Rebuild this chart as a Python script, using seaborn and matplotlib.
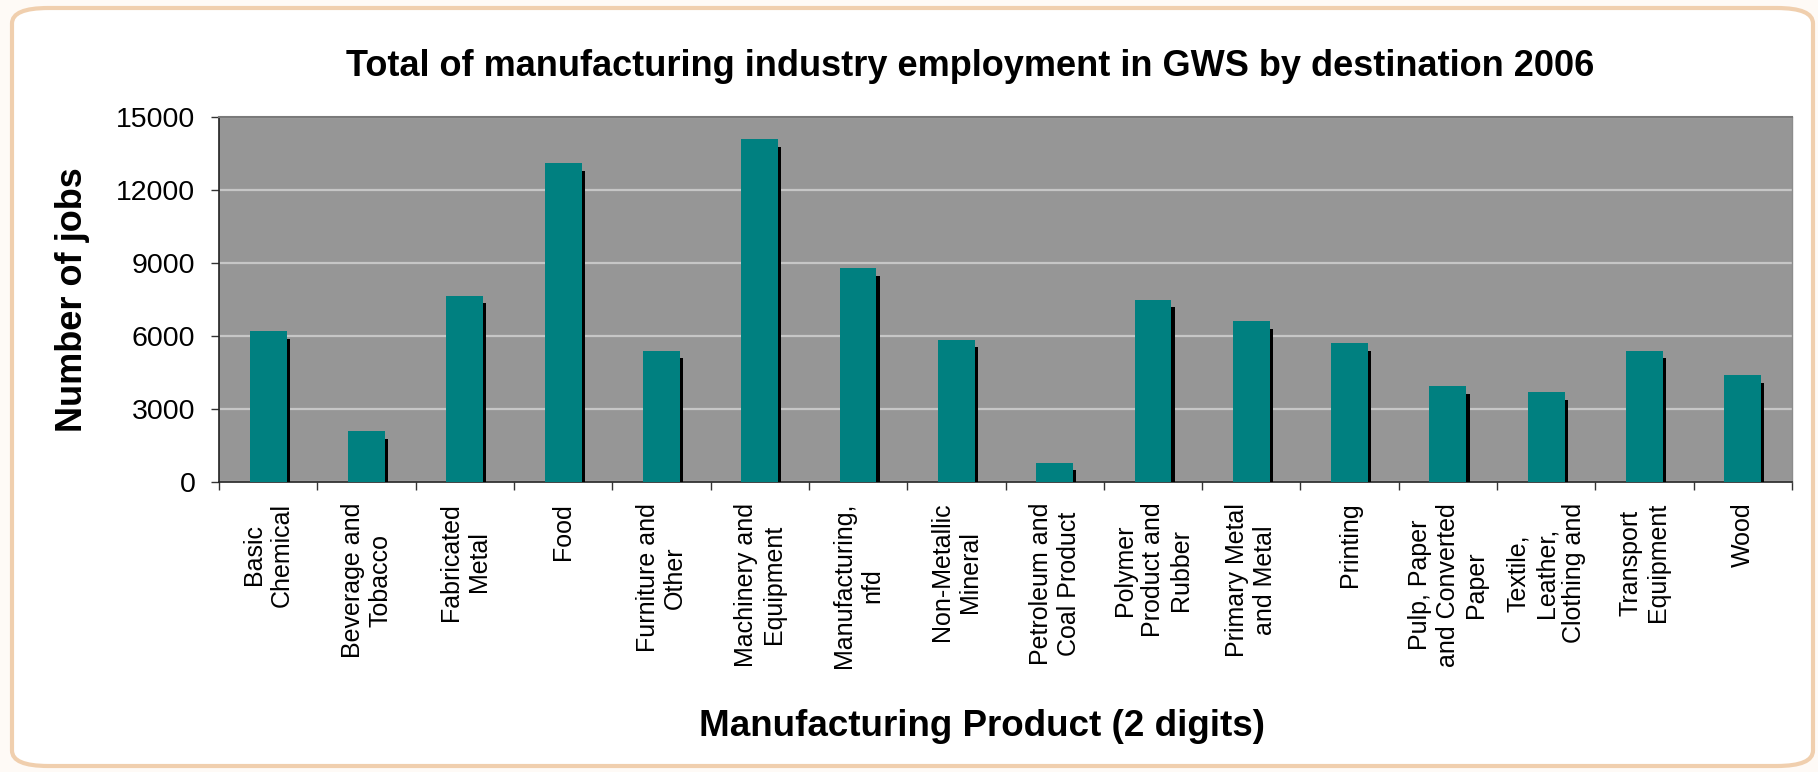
import numpy as np
import pandas as pd
import matplotlib
matplotlib.use("Agg")
import matplotlib.pyplot as plt
import matplotlib.patheffects as pe
from matplotlib.patches import FancyBboxPatch
import seaborn as sns

# Manufacturing employment (number of jobs) by 2-digit product group
categories = [
    "Basic\nChemical",
    "Beverage and\nTobacco",
    "Fabricated\nMetal",
    "Food",
    "Furniture and\nOther",
    "Machinery and\nEquipment",
    "Manufacturing,\nnfd",
    "Non-Metallic\nMineral",
    "Petroleum and\nCoal Product",
    "Polymer\nProduct and\nRubber",
    "Primary Metal\nand Metal",
    "Printing",
    "Pulp, Paper\nand Converted\nPaper",
    "Textile,\nLeather,\nClothing and",
    "Transport\nEquipment",
    "Wood",
]
jobs = [6200, 2100, 7650, 13100, 5400, 14100, 8800, 5850,
        800, 7500, 6600, 5700, 3950, 3680, 5400, 4400]
y_ticks = [0, 3000, 6000, 9000, 12000, 15000]

title = "Total of manufacturing industry employment in GWS by destination 2006"
x_label = "Manufacturing Product (2 digits)"
y_label = "Number of jobs"

sns.set_style("white")
plt.rcParams["font.family"] = ["Liberation Sans", "DejaVu Sans"]
plt.rcParams["text.color"] = "black"
plt.rcParams["axes.labelcolor"] = "black"
plt.rcParams["xtick.color"] = "black"
plt.rcParams["ytick.color"] = "black"

W, H = 1818, 772
fig = plt.figure(figsize=(W / 100, H / 100), dpi=100)
fig.patch.set_facecolor("#fefaf6")

# rounded outer frame, kept behind the axes
frame = FancyBboxPatch((12 / W, 1 - 766 / H), (1813 - 12) / W, (766 - 8) / H,
                       boxstyle="round,pad=0,rounding_size=0.02",
                       transform=fig.transFigure, facecolor="white",
                       edgecolor="#f0cfae", linewidth=3, zorder=-5)
fig.patches.append(frame)

left, right, top, bottom = 219, 1792, 117, 482
ax = fig.add_axes([left / W, 1 - bottom / H, (right - left) / W, (bottom - top) / H],
                  zorder=2)
ax.set_facecolor("#969696")

df = pd.DataFrame({"category": categories, "jobs": jobs})
sns.barplot(data=df, x="category", y="jobs", color="#008080", saturation=1,
            width=0.375, edgecolor="none", linewidth=0, ax=ax, zorder=3)

for bar in ax.patches:
    bar.set_path_effects([
        pe.SimplePatchShadow(offset=(2.3, -5.5), shadow_rgbFace="black", alpha=1.0),
        pe.Normal(),
    ])

ax.set_xlim(-0.5, len(categories) - 0.5)
ax.set_ylim(0, 15000)
ax.set_yticks(y_ticks)
ax.set_yticklabels([str(v) for v in y_ticks], fontsize=20.5)
ax.yaxis.grid(True, color="#c6c6c6", linewidth=1.6, zorder=1)
ax.set_axisbelow(True)

# category boundaries carry the tick marks, centres carry the labels
ax.set_xticks(np.arange(-0.5, len(categories), 1.0))
ax.set_xticklabels([])
ax.set_xticks(np.arange(len(categories)), minor=True)
ax.set_xticklabels(categories, minor=True, rotation=90, fontsize=18,
                   ha="center", va="top", multialignment="center",
                   linespacing=1.2)
ax.tick_params(axis="x", which="major", direction="out", length=6,
               width=1, color="#333333", bottom=True)
ax.tick_params(axis="x", which="minor", length=0, pad=15, bottom=True)
ax.tick_params(axis="y", direction="out", length=6, width=1,
               color="#333333", pad=11, left=True)

for side in ("left", "bottom"):
    ax.spines[side].set_color("#222222")
    ax.spines[side].set_linewidth(1.2)
ax.spines["top"].set_color("#7a7a7a")
ax.spines["top"].set_linewidth(1.5)
ax.spines["right"].set_color("#8c8c8c")
ax.spines["right"].set_linewidth(1.0)

ax.set_xlabel(x_label, fontsize=26.5, fontweight="bold", va="center")
ax.xaxis.set_label_coords((982 - left) / (right - left), (bottom - 726) / (bottom - top))
ax.set_ylabel(y_label, fontsize=26, fontweight="bold", va="center")
ax.yaxis.set_label_coords((73 - left) / (right - left), 0.5)

fig.text(970 / W, 1 - 66 / H, title, fontsize=26, fontweight="bold",
         ha="center", va="center")

fig.savefig("out.png", dpi=100, facecolor=fig.get_facecolor())
